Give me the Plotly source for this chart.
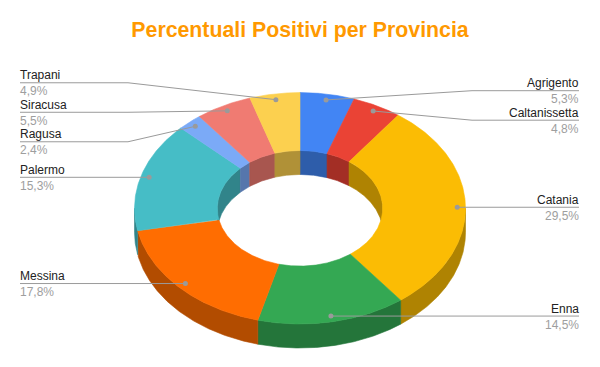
import numpy as np
import plotly.graph_objects as go

# ---- data ----
provinces = ["Agrigento", "Caltanissetta", "Catania", "Enna", "Messina",
             "Palermo", "Ragusa", "Siracusa", "Trapani"]
percent = [5.3, 4.8, 29.5, 14.5, 17.8, 15.3, 2.4, 5.5, 4.9]
colors = ["#4285F4", "#EA4335", "#FBBC04", "#34A853", "#FF6D01",
          "#46BDC6", "#7BAAF7", "#F07B72", "#FCD04F"]
title_text = "Percentuali Positivi per Provincia"

# ---- geometry / style ----
W, H = 600, 367
CX, CY, RX, RY = 300.0, 208.3, 165.5, 115.7
HOLE = 0.5
DEPTH = 24
DOT_R = 0.95
GAP = 29.5
ELBOW = 172
TEXT_L, TEXT_R = 20, 579
LINE_COLOR = "#9a9a9a"
FONT = "Liberation Sans, Arial, sans-serif"
LABEL_SIZE = 12


def darker(hexcol, f=0.7):
    h = hexcol.lstrip("#")
    r, g, b = (int(h[i:i + 2], 16) for i in (0, 2, 4))
    return "rgb(%d,%d,%d)" % (r * f, g * f, b * f)


def pt(theta, r):
    t = np.radians(theta)
    return CX + r * RX * np.sin(t), CY - r * RY * np.cos(t)


def arc(a, b, r):
    th = np.linspace(a, b, max(int(abs(b - a) * 3), 2))
    x, y = pt(th, r)
    return list(x), list(y)


def intersect(a, b, lo, hi):
    s, e = max(a, lo), min(b, hi)
    return (s, e) if e > s else None


total = sum(percent)
starts, ends = [], []
acc = 0.0
for v in percent:
    starts.append(acc / total * 360)
    acc += v
    ends.append(acc / total * 360)

fig = go.Figure()


def poly(xs, ys, color):
    fig.add_trace(go.Scatter(x=xs + [xs[0]], y=ys + [ys[0]], mode="lines",
                             fill="toself", fillcolor=color,
                             line=dict(width=0.6, color=color),
                             hoverinfo="skip", showlegend=False))


# inner walls (back half seen through the hole)
for a, b, c in zip(starts, ends, colors):
    for lo, hi in ((0, 90), (270, 360)):
        seg = intersect(a, b, lo, hi)
        if seg:
            x, y = arc(seg[0], seg[1], HOLE)
            poly(x + x[::-1], y + [v + DEPTH for v in y[::-1]], darker(c))

# outer walls (front half)
for a, b, c in zip(starts, ends, colors):
    seg = intersect(a, b, 90, 270)
    if seg:
        x, y = arc(seg[0], seg[1], 1.0)
        poly(x + x[::-1], y + [v + DEPTH for v in y[::-1]], darker(c))

# top faces
for a, b, c, name, v in zip(starts, ends, colors, provinces, percent):
    xo, yo = arc(a, b, 1.0)
    xi, yi = arc(b, a, HOLE)
    fig.add_trace(go.Scatter(x=xo + xi + [xo[0]], y=yo + yi + [yo[0]],
                             mode="lines", fill="toself", fillcolor=c,
                             line=dict(width=0.6, color=c),
                             hoveron="fills", name=name,
                             text=f"{name}: {v}%", hoverinfo="text",
                             showlegend=False))

# ---- labels with collision avoidance ----
items = []
for i, (a, b) in enumerate(zip(starts, ends)):
    mid = (a + b) / 2
    dx, dy = pt(mid, DOT_R)
    side = "right" if np.sin(np.radians(mid)) >= 0 else "left"
    items.append(dict(i=i, dx=float(dx), dy=float(dy), side=side))

for side in ("left", "right"):
    group = sorted([it for it in items if it["side"] == side], key=lambda t: t["dy"])
    clusters = [[it] for it in group]

    def place(cl):
        m = np.mean([t["dy"] for t in cl])
        n = len(cl)
        for k, t in enumerate(cl):
            t["ly"] = m + (k - (n - 1) / 2) * GAP

    for cl in clusters:
        place(cl)
    changed = True
    while changed:
        changed = False
        for k in range(len(clusters) - 1):
            if clusters[k][-1]["ly"] + GAP > clusters[k + 1][0]["ly"] + 1e-9:
                clusters[k] = clusters[k] + clusters[k + 1]
                del clusters[k + 1]
                place(clusters[k])
                changed = True
                break

annotations = []
for it in items:
    i = it["i"]
    ly = it["ly"]
    if it["side"] == "right":
        ex, tx, anchor = CX + ELBOW, TEXT_R, "right"
    else:
        ex, tx, anchor = CX - ELBOW, TEXT_L, "left"
    fig.add_trace(go.Scatter(x=[it["dx"], ex, tx], y=[it["dy"], ly, ly],
                             mode="lines", line=dict(color=LINE_COLOR, width=1),
                             hoverinfo="skip", showlegend=False))
    fig.add_trace(go.Scatter(x=[it["dx"]], y=[it["dy"]], mode="markers",
                             marker=dict(color=LINE_COLOR, size=5),
                             hoverinfo="skip", showlegend=False))
    pct = f"{percent[i]:.1f}".replace(".", ",") + "%"
    annotations.append(dict(x=tx, y=ly - 0.5, xref="x", yref="y", text=provinces[i],
                            showarrow=False, xanchor=anchor, yanchor="bottom",
                            borderpad=0, borderwidth=0,
                            font=dict(family=FONT, size=LABEL_SIZE, color="#222222")))
    annotations.append(dict(x=tx, y=ly + 1.5, xref="x", yref="y", text=pct,
                            showarrow=False, xanchor=anchor, yanchor="top",
                            borderpad=0, borderwidth=0,
                            font=dict(family=FONT, size=LABEL_SIZE, color="#9e9e9e")))

fig.update_layout(
    width=W, height=H,
    margin=dict(l=0, r=0, t=0, b=0),
    paper_bgcolor="white", plot_bgcolor="white",
    xaxis=dict(range=[0, W], visible=False, fixedrange=True),
    yaxis=dict(range=[H, 0], visible=False, fixedrange=True),
    title=dict(text="<b>" + title_text + "</b>", x=0.5, xanchor="center",
               y=1 - 29.5 / H, yanchor="middle", yref="container",
               font=dict(family=FONT, size=21.3, color="#FF9900")),
    annotations=annotations,
    showlegend=False,
)

fig.write_html("out.html", config={"displayModeBar": False},
               post_script="document.body.style.margin='0';document.body.style.padding='0';")
